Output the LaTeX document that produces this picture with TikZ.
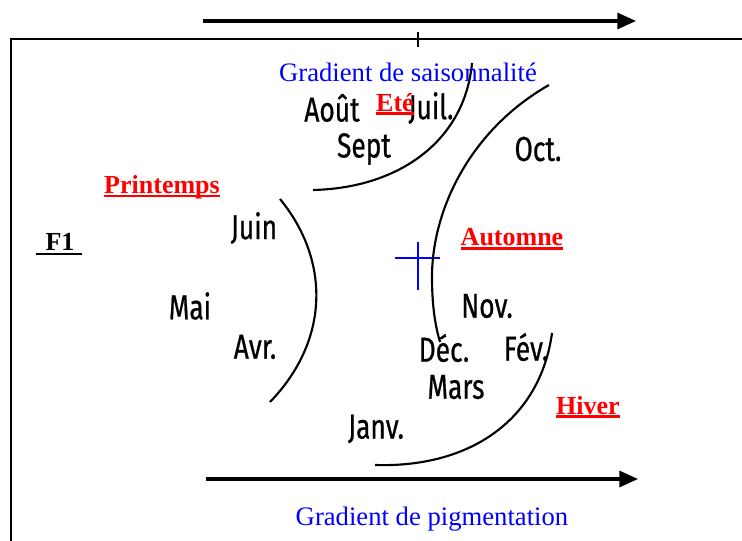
\documentclass[tikz,border=0pt]{standalone}
\usepackage{fontspec}
\setmainfont{Liberation Serif}
\newfontfamily\monthfont[FakeStretch=0.76, FakeBold=0.6]{Fira Sans}
\usetikzlibrary{arrows.meta}
\newcommand\myul[1]{\setbox0\hbox{#1}\rlap{\rule[-3pt]{\wd0}{2pt}}\box0}
\tikzset{
  month/.style={font=\monthfont\fontsize{26}{28}\selectfont, inner sep=0pt},
  season/.style={font=\bfseries\fontsize{19.5}{22}\selectfont, text=red, inner sep=0pt},
  grad/.style={font=\fontsize{20}{22}\selectfont, text=blue, inner sep=0pt},
  curve/.style={line width=1.6pt},
  bigarrow/.style={line width=2.3pt, -{Triangle[length=14pt,width=12pt]}},
}
\begin{document}
\begin{tikzpicture}[x=0.75pt,y=-0.75pt]
\useasboundingbox (0,0) rectangle (742,541);
% frame
\draw[line width=1.6pt] (11,541) -- (11,39) -- (742,39);
\draw[line width=1.2pt] (418,32) -- (418,47);
% arrows
\coordinate (ta) at (203,21); \coordinate (tb) at (636,21);
\coordinate (ba) at (206,479); \coordinate (bb) at (638,479);
\draw[bigarrow] (ta) -- (tb);
\draw[bigarrow] (ba) -- (bb);
% blue cross
\draw[blue, line width=1.3pt] (395,258) -- (440,258) (418,242) -- (418,290);
% curves
\draw[curve] (313,190) .. controls (400,188) and (465,140) .. (472,63);
\draw[curve] (280,199) .. controls (330,260) and (330,340) .. (270,402);
\draw[curve] (549,85) .. controls (470,130) and (432,210) .. (432,277) .. controls (432,305) and (435,325) .. (440,342);
\draw[curve] (552,333) .. controls (540,420) and (470,468) .. (375,465);
% texts
\node[grad] (gs) at (408,72) {Gradient de saisonnalité};
\node[grad] (gp) at (432,519) {Gradient de pigmentation};
\node[month] (aout) at (332,108) {Août};
\node[month] (juil) at (431,108) {Juil.};
\node[season] (ete) at (395,104) {\myul{Eté}};
\node[month] (sept) at (364,149) {Sept};
\node[month] (oct) at (538,149) {Oct.};
\node[season] (print) at (162,187) {\myul{Printemps}};
\node[month] (juin) at (254,228) {Juin};
\node[font=\bfseries\fontsize{19.5}{22}\selectfont, inner sep=0pt] (f1) at (60,242) {F1};
\draw[line width=1.3pt] (36,254) -- (82,254);
\node[season] (aut) at (512,239) {\myul{Automne}};
\node[month] (mai) at (190,306) {Mai};
\node[month] (nov) at (487,306) {Nov.};
\node[month] (avr) at (255,347) {Avr.};
\node[month] (dec) at (444,348) {Déc.};
\node[month] (fev) at (526,347) {Fév.};
\node[month] (mars) at (456,387) {Mars};
\node[season] (hiver) at (588,407) {\myul{Hiver}};
\node[month] (janv) at (376,429) {Janv.};
\end{tikzpicture}
\end{document}
